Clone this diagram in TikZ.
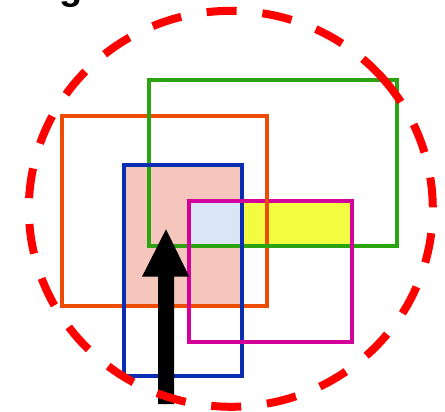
\documentclass[tikz,border=0pt]{standalone}
\usepackage{fontspec}
\setmainfont{Liberation Sans}
\definecolor{cOrange}{HTML}{EC4C04}
\definecolor{cGreen}{HTML}{2CA310}
\definecolor{cBlue}{HTML}{0A2DB2}
\definecolor{cMagenta}{HTML}{D4009A}
\definecolor{cPink}{HTML}{F4C6BC}
\definecolor{cLightBlue}{HTML}{DAE6F5}
\definecolor{cYellow}{HTML}{F2FC40}
\definecolor{cRed}{HTML}{FF0000}
\begin{document}
\begin{tikzpicture}[x=1pt,y=-1pt,
  box/.style={line width=4pt},
  ring/.style={draw=cRed,line width=8pt,dash pattern=on 30pt off 25.87pt}]
\useasboundingbox (0,0) rectangle (445,412);
\node[anchor=base,font=\bfseries\fontsize{38}{40}\selectfont,inner sep=0pt] (lbl) at (71,0) {g};
% fills
\fill[cPink] (124,164.7) rectangle (242,306);
\fill[cLightBlue] (189,200.7) rectangle (242,246);
\fill[cYellow] (242,200.7) rectangle (352.3,246);
% rectangles
\draw[box,cOrange] (62.3,116) rectangle (267.3,306);
\draw[box,cGreen] (149,80) rectangle (397.3,246);
\draw[box,cBlue] (124,164.7) rectangle (242,376);
\draw[box,cMagenta] (189,200.7) rectangle (352.3,342.3);
\draw[line width=4pt,cOrange] (267.3,196) -- (267.3,206);
% arrow
\fill[black] (158,404) -- (158,276.7) -- (142,276.7) -- (166,229.3) -- (189.3,276.7) -- (174,276.7) -- (174,404) -- cycle;
% dashed ring
\coordinate (ctr) at (230.8,208.8);
\draw[ring] (ctr) ++(40.6:202pt and 198pt) arc[start angle=40.6, end angle=400.6, x radius=202pt, y radius=198pt];
\end{tikzpicture}
\end{document}
